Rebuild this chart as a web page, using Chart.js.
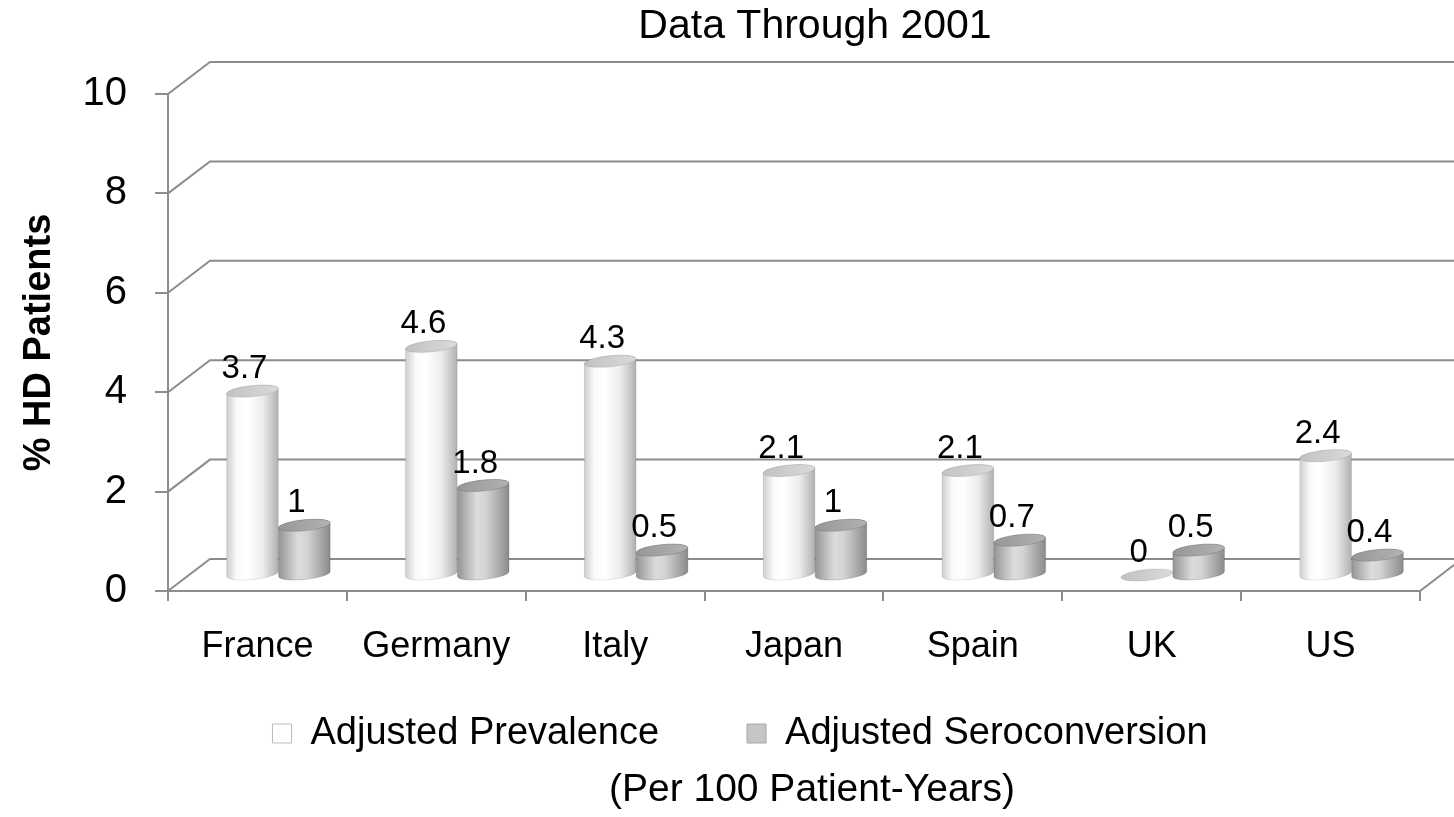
<!DOCTYPE html>
<html>
<head>
<meta charset="utf-8">
<title>HD Patients – Data Through 2001</title>
<script src="https://cdn.jsdelivr.net/npm/chart.js@4.4.1/dist/chart.umd.min.js"></script>
<style>
  html, body { margin: 0; padding: 0; background: #ffffff; }
  canvas { display: block; }
</style>
</head>
<body>
<canvas id="chart" width="1454" height="817"></canvas>
<script>
// ---- data ----
const countries = ['France', 'Germany', 'Italy', 'Japan', 'Spain', 'UK', 'US'];
const prevalence = [3.7, 4.6, 4.3, 2.1, 2.1, 0, 2.4];
const seroconversion = [1, 1.8, 0.5, 1, 0.7, 0.5, 0.4];
const seriesNames = ['Adjusted Prevalence', 'Adjusted Seroconversion'];
const chartTitle = 'Data Through 2001';
const unitNote = '(Per 100 Patient-Years)';
const axisTitle = '% HD Patients';
const yRange = [0, 10];
const yStep = 2;

// ---- look ----
const FONT = "'Liberation Sans', Arial, Helvetica, sans-serif";
const LINE = '#8c8c8c';
const BACK = { dx: 42, dy: -32 };   // back wall offset of the 3-D box
const MID = { dx: 21, dy: -16 };    // plane the cylinders stand on
const TILT = -0.1;                  // perspective tilt of the cylinder ends
const RY = 5.5;                     // half height of the cylinder ends

const cylinderStyles = [
  { body: [[0, '#cdcdcd'], [0.2, '#fbfbfb'], [0.4, '#ffffff'], [0.7, '#ececec'], [1, '#b0b0b0']],
    cap: ['#c2c2c2', '#dadada'], edge: 'rgba(0,0,0,0.10)' },
  { body: [[0, '#949494'], [0.38, '#dcdcdc'], [0.55, '#d4d4d4'], [1, '#8a8a8a']],
    cap: ['#979797', '#b2b2b2'], edge: 'rgba(0,0,0,0.14)' }
];

Chart.defaults.font.family = FONT;
Chart.defaults.color = '#000000';

function drawCylinder(ctx, cx, top, bot, rx, style) {
  if (bot - top > 0.5) {
    const g = ctx.createLinearGradient(cx - rx, 0, cx + rx, 0);
    style.body.forEach(([o, c]) => g.addColorStop(o, c));
    ctx.beginPath();
    ctx.ellipse(cx, bot, rx, RY, TILT, Math.PI, 0, true);
    ctx.ellipse(cx, top, rx, RY, TILT, 0, Math.PI, true);
    ctx.closePath();
    ctx.fillStyle = g;
    ctx.fill();
    ctx.lineWidth = 1;
    ctx.strokeStyle = style.edge;
    ctx.stroke();
  }
  const cg = ctx.createLinearGradient(cx - rx, 0, cx + rx, 0);
  cg.addColorStop(0, style.cap[0]);
  cg.addColorStop(1, style.cap[1]);
  ctx.beginPath();
  ctx.ellipse(cx, top, rx, RY, TILT, 0, Math.PI * 2);
  ctx.fillStyle = cg;
  ctx.fill();
  ctx.lineWidth = 1;
  ctx.strokeStyle = style.edge;
  ctx.stroke();
}

// Places the outer text blocks and draws the 3-D wall, floor and cylinder bars.
const box3d = {
  id: 'box3d',
  afterLayout(chart, args, opts) {
    const shiftX = (box, dx) => { if (box) { box.left += dx; box.right += dx; } };
    shiftX(chart.titleBlock, opts.titleShift);
    const lg = chart.legend;
    if (lg) {
      shiftX(lg, opts.legendShift);
      // grow the legend box upward so its row sits closer to the axis labels
      lg.top -= opts.legendLift;
      lg.height = lg.bottom - lg.top;
    }
    chart.boxes.forEach(b => {
      if (chart.titleBlock && b !== chart.titleBlock && b.constructor === chart.titleBlock.constructor) {
        shiftX(b, opts.subtitleShift);
      }
    });
  },
  beforeDatasetsDraw(chart) {
    const { ctx, chartArea, scales: { y } } = chart;
    ctx.save();
    ctx.strokeStyle = LINE;
    ctx.lineWidth = 2;
    // back wall gridlines with their side diagonals
    y.ticks.forEach(t => {
      const py = y.getPixelForValue(t.value);
      ctx.beginPath();
      ctx.moveTo(chartArea.left, py);
      ctx.lineTo(chartArea.left + BACK.dx, py + BACK.dy);
      ctx.lineTo(chart.width + 2, py + BACK.dy);
      ctx.stroke();
    });
    // right floor edge
    const py0 = y.getPixelForValue(yRange[0]);
    ctx.beginPath();
    ctx.moveTo(chartArea.right, py0);
    ctx.lineTo(chartArea.right + BACK.dx, py0 + BACK.dy);
    ctx.stroke();

    // cylinders
    const labels = [];
    const metas = chart.data.datasets.map((ds, i) => chart.getDatasetMeta(i));
    countries.forEach((c, j) => {
      metas.forEach((meta, i) => {
        const el = meta.data[j];
        const p = el.getProps(['x', 'y', 'base', 'width'], true);
        const cx = p.x + MID.dx;
        const top = p.y + MID.dy;
        const bot = p.base + MID.dy;
        drawCylinder(ctx, cx, top, bot, p.width / 2, cylinderStyles[i]);
        labels.push({ text: String(chart.data.datasets[i].data[j]), x: cx - 8, y: top - 13 });
      });
    });

    // value labels
    ctx.fillStyle = '#000000';
    ctx.font = '33px ' + FONT;
    ctx.textAlign = 'center';
    ctx.textBaseline = 'alphabetic';
    labels.forEach(l => ctx.fillText(l.text, l.x, l.y));
    ctx.restore();
    return false;
  }
};

new Chart(document.getElementById('chart'), {
  type: 'bar',
  data: {
    labels: countries,
    datasets: [
      { label: seriesNames[0], data: prevalence,
        backgroundColor: '#ffffff', borderColor: '#bdbdbd', borderWidth: 1 },
      { label: seriesNames[1], data: seroconversion,
        backgroundColor: '#c6c6c6', borderColor: '#a6a6a6', borderWidth: 1 }
    ]
  },
  options: {
    responsive: false,
    animation: false,
    events: [],
    layout: { padding: { left: 0, right: 34, top: 0, bottom: 0 } },
    datasets: { bar: { categoryPercentage: 0.58, barPercentage: 1 } },
    scales: {
      x: {
        grid: { drawOnChartArea: false, drawTicks: true, tickLength: 10, color: LINE, lineWidth: 2, offset: true },
        border: { display: true, color: LINE, width: 2 },
        ticks: { font: { size: 36 }, color: '#000000', padding: 24, maxRotation: 0, autoSkip: false },
        afterFit: s => { s.height = 80; }
      },
      y: {
        min: yRange[0],
        max: yRange[1],
        ticks: { stepSize: yStep, font: { size: 40 }, color: '#000000', padding: 28 },
        grid: { drawOnChartArea: false, drawTicks: true, tickLength: 13, color: LINE, lineWidth: 2 },
        border: { display: true, color: LINE, width: 2 },
        title: { display: true, text: axisTitle, color: '#000000',
                 font: { size: 38, weight: 'bold' }, padding: { top: 17, bottom: 0 } },
        afterFit: s => { s.width = 168; }
      }
    },
    plugins: {
      title: { display: true, text: chartTitle, color: '#000000',
               font: { size: 41, weight: 'normal' }, padding: { top: 2, bottom: 42.8 } },
      subtitle: { display: true, position: 'bottom', text: unitNote, color: '#000000',
                  font: { size: 39, weight: 'normal' }, padding: { top: 4.1, bottom: 3.6 } },
      legend: {
        position: 'bottom',
        maxHeight: 91.5,
        labels: { boxWidth: 19, boxHeight: 19, padding: 88, font: { size: 38 }, color: '#000000' }
      },
      tooltip: { enabled: false },
      box3d: { titleShift: 105, subtitleShift: 102, legendShift: 30, legendLift: 44.5 }
    }
  },
  plugins: [box3d]
});
</script>
</body>
</html>
